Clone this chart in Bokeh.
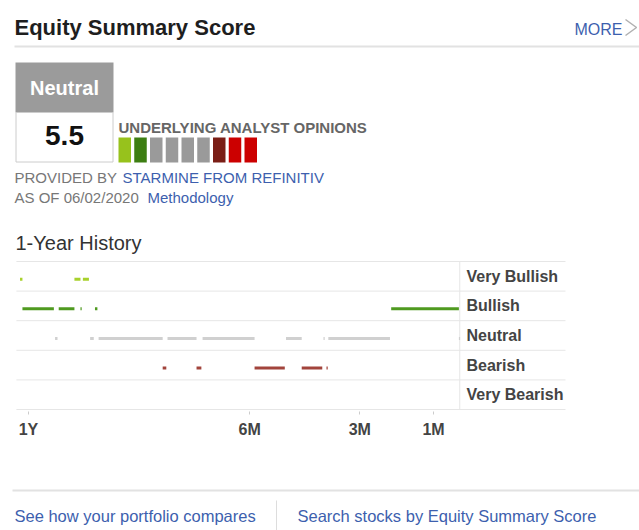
from bokeh.plotting import figure
from bokeh.layouts import column
from bokeh.models import Range1d, FixedTicker, ColumnDataSource
from bokeh.transform import dodge
from bokeh.core.properties import value
from bokeh.embed import file_html
from bokeh.resources import INLINE

FONT = value("Liberation Sans")
BLUE = "#3d5fae"
GRAY_TXT = "#777777"
W = 639

# ---------------- data ----------------
title = "Equity Summary Score"
score_label = "Neutral"
score_value = "5.5"
as_of = "06/02/2020"

# underlying analyst opinions (counts per category)
opinion_cats = ["Very Bullish", "Bullish", "Neutral", "Bearish", "Very Bearish"]
opinion_counts = [1, 1, 4, 1, 2]
opinion_colors = ["#97c21c", "#3d7e12", "#9a9a9a", "#7a1e16", "#cc0000"]

# 1-year history: levels (bottom to top) and segments in days ago
levels = ["Very Bearish", "Bearish", "Neutral", "Bullish", "Very Bullish"]
level_colors = ["#cc0000", "#a2443c", "#d0d0d0", "#4f9a20", "#a8d12c"]

very_bullish_start = [372, 327, 320]
very_bullish_end = [370, 322, 315]
bullish_start = [370, 340, 322, 310, 65]
bullish_end = [344, 327, 321, 308, 9]
neutral_start = [343, 314, 307, 250, 221, 152, 121, 117, 9]
neutral_end = [341, 311, 254, 226, 178, 139, 120, 66, 8]
bearish_start = [254, 226, 178, 139, 118.5]
bearish_end = [251, 222, 153, 122, 117.5]
very_bearish_start = []
very_bearish_end = []

tick_days = [365, 182, 91, 30]
tick_labels = ["1Y", "6M", "3M", "1M"]
history_days = 375
chart_end_days = 8.3

footer_links = ["See how your portfolio compares", "Search stocks by Equity Summary Score"]


def blank(h, y0, y1):
    f = figure(width=W, height=h, x_range=Range1d(0, W), y_range=Range1d(y1, y0),
               toolbar_location=None, output_backend="svg", min_border=0,
               x_axis_location=None, y_axis_location=None, outline_line_color=None,
               background_fill_color="white", border_fill_color="white")
    f.grid.visible = False
    return f


def txt(f, x, y, t, size, color, bold=False, align="left"):
    f.text(x=[x], y=[y], text=[t], text_font=FONT, text_font_size=f"{size}px",
           text_font_style="bold" if bold else "normal", text_color=color,
           text_baseline="middle", text_align=align)


# ---------------- top panel ----------------
top = blank(255, 0, 255)
txt(top, 14, 27, title, 22, "#1e1e1e", bold=True)
txt(top, 574, 29, "MORE", 16, BLUE)
top.line(x=[625, 636, 625], y=[19, 27, 35], line_color="#b0b0b0", line_width=1.5)
top.line(x=[14, 639], y=[46, 46], line_color="#e2e2e2", line_width=2)

top.quad(left=[15], right=[113], top=[62], bottom=[112], fill_color="#9b9b9b", line_color=None)
top.quad(left=[15.5], right=[112.5], top=[112], bottom=[161.5], fill_color="white",
         line_color="#cccccc", line_width=1)
txt(top, 64, 87, score_label, 20, "white", bold=True, align="center")
txt(top, 64, 135, score_value, 28, "#111111", bold=True, align="center")

txt(top, 118, 127, "UNDERLYING ANALYST OPINIONS", 15, "#666666", bold=True)
sq_colors = []
for c, n in zip(opinion_colors, opinion_counts):
    sq_colors += [c] * n
sq_left = [118 + i * 15.75 for i in range(len(sq_colors))]
top.quad(left=sq_left, right=[l + 12.5 for l in sq_left], top=[137] * len(sq_left),
         bottom=[162] * len(sq_left), fill_color=sq_colors, line_color=None)

txt(top, 14, 177, "PROVIDED BY ", 15, GRAY_TXT)
txt(top, 122, 177, "STARMINE FROM REFINITIV", 15, BLUE)
txt(top, 14, 197, "AS OF " + as_of + " ", 15, GRAY_TXT)
txt(top, 147, 197, "Methodology", 15, BLUE)
txt(top, 15, 242, "1-Year History", 20, "#333333")

# ---------------- history chart ----------------
slope = 1.209      # px per day
x0px = 469.27      # pixel of "today"
row_px = 29.6
hist = figure(width=W, height=190,
              x_range=Range1d((0 - x0px) / slope, (W - x0px) / slope),
              y_range=Range1d(-0.5 - 2 / row_px, 4.5 + 2 / row_px),
              toolbar_location=None, output_backend="svg",
              y_axis_location=None, x_axis_location="below",
              outline_line_color=None, background_fill_color="white", border_fill_color="white",
              min_border_left=0, min_border_right=0, min_border_top=4, min_border_bottom=34)
hist.grid.visible = False

ax = hist.xaxis[0]
ax.ticker = FixedTicker(ticks=[-d for d in tick_days])
ax.major_label_overrides = {-d: lab for d, lab in zip(tick_days, tick_labels)}
ax.axis_line_color = None
ax.major_tick_in = 0
ax.major_tick_out = 3
ax.major_tick_line_color = "#cccccc"
ax.minor_tick_line_color = None
ax.major_label_standoff = 6
ax.major_label_text_font = "Liberation Sans"
ax.major_label_text_font_size = "16px"
ax.major_label_text_font_style = "bold"
ax.major_label_text_color = "#444444"

# row boundaries (horizontal) spanning chart + label column, and the end-of-chart line
grid_left = -history_days
grid_right = (565 - x0px) / slope
bounds = [i - 0.5 for i in range(len(levels) + 1)]
hist.segment(x0=[grid_left] * len(bounds), x1=[grid_right] * len(bounds), y0=bounds, y1=bounds,
             line_color="#e6e6e6", line_width=1)
hist.segment(x0=[-chart_end_days], x1=[-chart_end_days], y0=[bounds[0]], y1=[bounds[-1]],
             line_color="#e6e6e6", line_width=1)

series = [
    (very_bearish_start, very_bearish_end),
    (bearish_start, bearish_end),
    (neutral_start, neutral_end),
    (bullish_start, bullish_end),
    (very_bullish_start, very_bullish_end),
]
for lvl, ((s, e), col) in enumerate(zip(series, level_colors)):
    if not s:
        continue
    src = ColumnDataSource(dict(x0=[-v for v in s], x1=[-v for v in e], y=[lvl] * len(s)))
    hist.segment(x0="x0", x1="x1", y0=dodge("y", -0.1), y1=dodge("y", -0.1), source=src,
                 line_color=col, line_width=3, line_cap="butt")

hist.text(x=[(466 - x0px) / slope] * len(levels), y=list(range(len(levels))), text=levels,
          text_font=FONT, text_font_size="16px", text_font_style="bold",
          text_color="#444444", text_baseline="middle", text_align="left")

# ---------------- footer ----------------
foot = blank(85, 445, 530)
foot.line(x=[12, 639], y=[490, 490], line_color="#e2e2e2", line_width=2)
foot.line(x=[276, 276], y=[500, 530], line_color="#dddddd", line_width=1)
txt(foot, 14, 515, footer_links[0], 16.5, BLUE)
txt(foot, 297, 515, footer_links[1], 16.5, BLUE)

p = column(top, hist, foot, spacing=0)
open("out.html", "w").write(file_html(p, INLINE))
